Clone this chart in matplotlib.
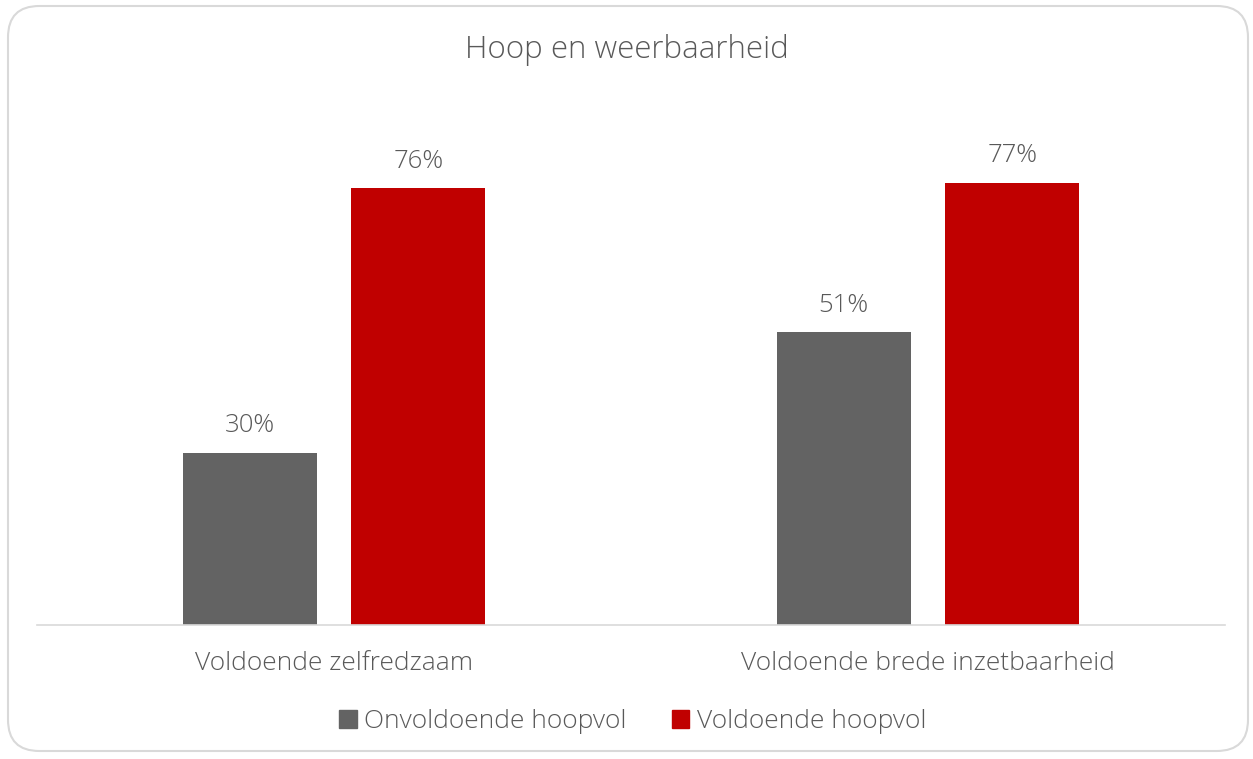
import numpy as np
import matplotlib.pyplot as plt
from matplotlib.patches import FancyBboxPatch, Patch

# Data
categories = ['Voldoende zelfredzaam', 'Voldoende brede inzetbaarheid']
onvoldoende = [0.30, 0.51]
voldoende = [0.76, 0.77]
series_names = ['Onvoldoende hoopvol', 'Voldoende hoopvol']
colors = ['#636363', '#c00000']
text_color = '#595959'

plt.rcParams['font.family'] = ['Open Sans', 'DejaVu Sans']
plt.rcParams['font.weight'] = 'light'

fig = plt.figure(figsize=(12.53, 7.59), dpi=100)

# Rounded chart border
border = FancyBboxPatch((8 / 1253, 8 / 759), 1240 / 1253, 745 / 759,
                        boxstyle='round,pad=0,rounding_size=0.025',
                        transform=fig.transFigure, facecolor='white',
                        edgecolor='#d9d9d9', linewidth=1.5, zorder=-1,
                        mutation_aspect=1253 / 759)
fig.patches.append(border)

ax = fig.add_axes([37 / 1253, 134 / 759, 1188 / 1253, 517 / 759])
ax.set_facecolor('none')
ax.set_zorder(2)

x = np.arange(len(categories))
w = 0.2256
off = 0.142
b1 = ax.bar(x - off, onvoldoende, w, color=colors[0], label=series_names[0])
b2 = ax.bar(x + off, voldoende, w, color=colors[1], label=series_names[1])

for bars, vals in [(b1, onvoldoende), (b2, voldoende)]:
    for b, v in zip(bars, vals):
        ax.text(b.get_x() + b.get_width() / 2, v + 0.025, f'{v:.0%}',
                ha='center', va='bottom', fontsize=18.5, color=text_color)

ax.set_xlim(-0.5, 1.5)
ax.set_ylim(0, 0.9)
ax.set_yticks([])
ax.set_xticks(x)
ax.set_xticklabels(categories, fontsize=19, color=text_color)
ax.tick_params(axis='x', length=0, pad=19)
for s in ['top', 'right', 'left']:
    ax.spines[s].set_visible(False)
ax.spines['bottom'].set_color('#d9d9d9')
ax.spines['bottom'].set_linewidth(1.2)

fig.text(0.5, 1 - 50 / 759, 'Hoop en weerbaarheid', ha='center', va='center',
         fontsize=22.5, color=text_color)

handles = [Patch(color=colors[0]), Patch(color=colors[1])]
fig.legend(handles, series_names, loc='center', bbox_to_anchor=(0.505, 1 - 722 / 759),
           ncol=2, frameon=False, fontsize=19, labelcolor=text_color,
           handlelength=0.65, handleheight=0.65, handletextpad=0.3, columnspacing=1.7)

plt.savefig('out.png', dpi=100)
